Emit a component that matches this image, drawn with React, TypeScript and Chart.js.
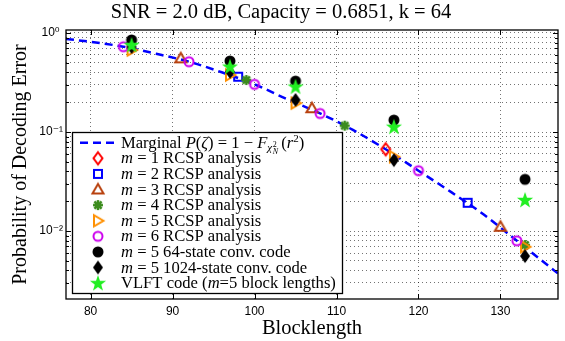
import React, { useEffect, useRef } from 'react';
import { Chart, registerables } from 'chart.js';

Chart.register(...registerables);

const titleText = 'SNR = 2.0 dB, Capacity = 0.6851, k = 64';
const xTitle = 'Blocklength';
const yTitle = 'Probability of Decoding Error';
const xTickValues = [80, 90, 100, 110, 120, 130];
const yMajorTicks = [0.01, 0.1, 1];
const yMajorLabels = ['10\u207B\u00B2', '10\u207B\u00B9', '10\u2070 '];

const marginalX = [77, 80, 84, 88, 92, 96, 100, 104, 108, 112, 116, 120, 124, 128, 132, 137];
const marginalY = [0.87, 0.815, 0.727, 0.617, 0.513, 0.401, 0.303, 0.214, 0.154, 0.105, 0.0669, 0.0407, 0.0247, 0.0146, 0.00798, 0.00374];

const m1X = [116];
const m1Y = [0.0669];
const m2X = [98, 126];
const m2Y = [0.362, 0.0193];
const m3X = [91, 107, 130];
const m3Y = [0.555, 0.174, 0.01105];
const m4X = [99, 111, 133];
const m4Y = [0.335, 0.116, 0.00722];
const m5X = [85, 97, 105, 117, 133];
const m5Y = [0.673, 0.376, 0.196, 0.0563, 0.00694];
const m6X = [84, 92, 100, 108, 120, 132];
const m6Y = [0.727, 0.513, 0.303, 0.154, 0.0407, 0.00798];
const conv64X = [85, 97, 105, 117, 133];
const conv64Y = [0.85, 0.521, 0.327, 0.132, 0.0333];
const conv1024X = [85, 97, 105, 117, 133];
const conv1024Y = [0.72, 0.406, 0.211, 0.052, 0.00559];
const vlftX = [85, 97, 105, 117, 133];
const vlftY = [0.756, 0.457, 0.287, 0.113, 0.0206];

const mValues = ['1', '2', '3', '4', '5', '6'];

const SERIF = '"Liberation Serif", "DejaVu Serif", serif';
const SANS = '"Liberation Sans", "DejaVu Sans", sans-serif';

function makeMarker(kind: string, color: string): HTMLCanvasElement {
  const c = document.createElement('canvas');
  const S = 20;
  c.width = S;
  c.height = S;
  const ctx = c.getContext('2d')!;
  const cx = S / 2;
  const cy = S / 2;
  ctx.strokeStyle = color;
  ctx.fillStyle = color;
  ctx.lineWidth = 2;
  ctx.lineJoin = 'miter';
  ctx.beginPath();
  switch (kind) {
    case 'diamondOpen':
      ctx.moveTo(cx, cy - 6);
      ctx.lineTo(cx + 4.5, cy);
      ctx.lineTo(cx, cy + 6);
      ctx.lineTo(cx - 4.5, cy);
      ctx.closePath();
      ctx.stroke();
      break;
    case 'square':
      ctx.rect(cx - 4, cy - 4, 8, 8);
      ctx.stroke();
      break;
    case 'triUp':
      ctx.moveTo(cx, cy - 5.5);
      ctx.lineTo(cx + 5.5, cy + 4);
      ctx.lineTo(cx - 5.5, cy + 4);
      ctx.closePath();
      ctx.stroke();
      break;
    case 'asterisk': {
      ctx.lineWidth = 2.5;
      const r = 5;
      const d = r * 0.72;
      ctx.moveTo(cx - r, cy); ctx.lineTo(cx + r, cy);
      ctx.moveTo(cx, cy - r); ctx.lineTo(cx, cy + r);
      ctx.moveTo(cx - d, cy - d); ctx.lineTo(cx + d, cy + d);
      ctx.moveTo(cx - d, cy + d); ctx.lineTo(cx + d, cy - d);
      ctx.stroke();
      ctx.beginPath();
      ctx.arc(cx, cy, 3, 0, Math.PI * 2);
      ctx.fill();
      break;
    }
    case 'triRight':
      ctx.moveTo(cx + 5.5, cy);
      ctx.lineTo(cx - 4, cy - 5.5);
      ctx.lineTo(cx - 4, cy + 5.5);
      ctx.closePath();
      ctx.stroke();
      break;
    case 'circleOpen':
      ctx.arc(cx, cy, 4.5, 0, Math.PI * 2);
      ctx.stroke();
      break;
    case 'circleFilled':
      ctx.arc(cx, cy, 5.5, 0, Math.PI * 2);
      ctx.fill();
      break;
    case 'diamondFilled':
      ctx.moveTo(cx, cy - 7);
      ctx.lineTo(cx + 5, cy);
      ctx.lineTo(cx, cy + 7);
      ctx.lineTo(cx - 5, cy);
      ctx.closePath();
      ctx.fill();
      break;
    case 'star5': {
      const ro = 8.5;
      const ri = 3.4;
      for (let i = 0; i < 10; i++) {
        const r = i % 2 === 0 ? ro : ri;
        const a = -Math.PI / 2 + (i * Math.PI) / 5;
        const px = cx + r * Math.cos(a);
        const py = cy + 0.5 + r * Math.sin(a);
        if (i === 0) ctx.moveTo(px, py);
        else ctx.lineTo(px, py);
      }
      ctx.closePath();
      ctx.fill();
      break;
    }
  }
  return c;
}

function pts(xs: number[], ys: number[]) {
  return xs.map((x, i) => ({ x, y: ys[i] }));
}

export default function App() {
  const ref = useRef<HTMLCanvasElement | null>(null);

  useEffect(() => {
    document.body.style.margin = '0';
    const canvas = ref.current;
    if (!canvas) return;

    const markers = {
      m1: makeMarker('diamondOpen', '#ff0000'),
      m2: makeMarker('square', '#0000ff'),
      m3: makeMarker('triUp', '#b8410e'),
      m4: makeMarker('asterisk', '#3c8c1e'),
      m5: makeMarker('triRight', '#ff9000'),
      m6: makeMarker('circleOpen', '#cc00ee'),
      c64: makeMarker('circleFilled', '#000000'),
      c1024: makeMarker('diamondFilled', '#000000'),
      vlft: makeMarker('star5', '#22ee22'),
    };

    const series = [
      { key: 'm1', data: pts(m1X, m1Y) },
      { key: 'm2', data: pts(m2X, m2Y) },
      { key: 'm3', data: pts(m3X, m3Y) },
      { key: 'm4', data: pts(m4X, m4Y) },
      { key: 'm5', data: pts(m5X, m5Y) },
      { key: 'm6', data: pts(m6X, m6Y) },
      { key: 'c64', data: pts(conv64X, conv64Y) },
      { key: 'c1024', data: pts(conv1024X, conv1024Y) },
      { key: 'vlft', data: pts(vlftX, vlftY) },
    ];

    const yGridValues: number[] = [];
    for (let d = -3; d <= 0; d++) {
      for (let k = 1; k <= 9; k++) {
        const v = k * Math.pow(10, d);
        if (v >= 0.00206 && v <= 1.072) yGridValues.push(v);
      }
    }

    const datasets: any[] = [
      {
        label: 'Marginal',
        data: pts(marginalX, marginalY),
        showLine: true,
        borderColor: '#0000ff',
        borderWidth: 2.5,
        borderDash: [8, 5],
        pointRadius: 0,
        cubicInterpolationMode: 'monotone',
        order: 0,
      },
      ...series.map((s, i) => ({
        label: s.key,
        data: s.data,
        showLine: false,
        pointStyle: (markers as any)[s.key],
        pointRadius: 6,
        pointHoverRadius: 6,
        order: -(i + 1),
      })),
    ];

    const frameLegend = {
      id: 'frameLegend',
      afterDraw(chart: any) {
        const ctx = chart.ctx as CanvasRenderingContext2D;
        const a = chart.chartArea;
        const xs = chart.scales.x;
        const ys = chart.scales.y;
        ctx.save();
        // frame
        ctx.strokeStyle = '#000';
        ctx.lineWidth = 1.3;
        ctx.strokeRect(a.left, a.top, a.right - a.left, a.bottom - a.top);
        // inner ticks
        ctx.lineWidth = 1;
        ctx.beginPath();
        xTickValues.forEach((v) => {
          const px = Math.round(xs.getPixelForValue(v)) + 0.5;
          ctx.moveTo(px, a.bottom); ctx.lineTo(px, a.bottom - 5);
          ctx.moveTo(px, a.top); ctx.lineTo(px, a.top + 5);
        });
        yGridValues.forEach((v) => {
          const major = yMajorTicks.some((m) => Math.abs(m - v) / m < 1e-6);
          const len = major ? 5 : 3;
          const py = Math.round(ys.getPixelForValue(v)) + 0.5;
          ctx.moveTo(a.left, py); ctx.lineTo(a.left + len, py);
          ctx.moveTo(a.right, py); ctx.lineTo(a.right - len, py);
        });
        ctx.stroke();

        // legend
        const bx = 72.5, by = 132.5, bw = 270, bh = 161;
        ctx.fillStyle = '#fff';
        ctx.fillRect(bx, by, bw, bh);
        ctx.strokeStyle = '#000';
        ctx.lineWidth = 1.3;
        ctx.strokeRect(bx, by, bw, bh);

        const R = `16.6px ${SERIF}`;
        const I = `italic 16.6px ${SERIF}`;
        const row0 = 142.7;
        const dyRow = 15.6;
        const tx = 121;
        const mx = 98;
        ctx.fillStyle = '#000';
        ctx.textBaseline = 'alphabetic';
        ctx.textAlign = 'left';

        const drawSegs = (segs: { t: string; f: string; dy?: number }[], x: number, base: number) => {
          let cx = x;
          segs.forEach((s) => {
            ctx.font = s.f;
            ctx.fillText(s.t, cx, base + (s.dy || 0));
            cx += ctx.measureText(s.t).width;
          });
          return cx;
        };

        // marginal row
        ctx.save();
        ctx.strokeStyle = '#0000ff';
        ctx.lineWidth = 2.5;
        ctx.setLineDash([8, 5]);
        ctx.beginPath();
        ctx.moveTo(80, row0);
        ctx.lineTo(117, row0);
        ctx.stroke();
        ctx.restore();
        let base = row0 + 5;
        let cx = drawSegs(
          [
            { t: 'Marginal ', f: R },
            { t: 'P', f: I },
            { t: '(', f: R },
            { t: '\u03B6', f: I },
            { t: ') = 1 \u2212 ', f: R },
            { t: 'F', f: I },
            { t: '\u03C7', f: `italic 11px ${SERIF}`, dy: 3 },
          ],
          tx,
          base
        );
        ctx.font = `8px ${SERIF}`;
        ctx.fillText('2', cx + 0.5, base - 1);
        ctx.font = `italic 8px ${SERIF}`;
        ctx.fillText('N', cx + 0.5, base + 6);
        cx += 9;
        cx = drawSegs(
          [
            { t: '(', f: R },
            { t: 'r', f: I },
            { t: '2', f: `11px ${SERIF}`, dy: -6 },
            { t: ')', f: R },
          ],
          cx,
          base
        );

        const keys = ['m1', 'm2', 'm3', 'm4', 'm5', 'm6', 'c64', 'c1024', 'vlft'];
        keys.forEach((k, i) => {
          const y = row0 + dyRow * (i + 1);
          const img = (markers as any)[k] as HTMLCanvasElement;
          ctx.drawImage(img, mx - img.width / 2, y - img.height / 2);
          const b = y + 5;
          if (i < 6) {
            drawSegs([{ t: 'm', f: I }, { t: ` = ${mValues[i]} RCSP analysis`, f: R }], tx, b);
          } else if (k === 'c64') {
            drawSegs([{ t: 'm', f: I }, { t: ' = 5 64-state conv. code', f: R }], tx, b);
          } else if (k === 'c1024') {
            drawSegs([{ t: 'm', f: I }, { t: ' = 5 1024-state conv. code', f: R }], tx, b);
          } else {
            drawSegs(
              [
                { t: 'VLFT code (', f: R },
                { t: 'm', f: I },
                { t: '=5 block lengths)', f: R },
              ],
              tx,
              b
            );
          }
        });
        ctx.restore();
      },
    };

    Chart.defaults.color = '#000';

    const chart = new Chart(canvas, {
      type: 'line',
      data: { datasets },
      options: {
        animation: false,
        responsive: false,
        devicePixelRatio: 1,
        layout: { padding: { left: 0, right: 3, top: 0, bottom: 0 } },
        plugins: {
          legend: { display: false },
          tooltip: { enabled: false },
          title: {
            display: true,
            text: titleText,
            color: '#000',
            font: { family: SERIF, size: 20.5, weight: 'normal' },
            padding: { top: 0, bottom: 5.4 },
          },
        },
        scales: {
          x: {
            type: 'linear',
            min: 77,
            max: 137.02,
            afterFit: (s: any) => {
              s.height = 42;
            },
            afterBuildTicks: (s: any) => {
              s.ticks = xTickValues.map((v) => ({ value: v }));
            },
            ticks: {
              autoSkip: false,
              maxRotation: 0,
              padding: 5,
              color: '#000',
              font: { family: SANS, size: 12 },
            },
            grid: {
              drawTicks: false,
              color: 'rgba(0,0,0,0.55)',
              lineWidth: 1,
            },
            border: { display: false, dash: [1, 3] },
            title: {
              display: true,
              text: xTitle,
              color: '#000',
              font: { family: SERIF, size: 20.5 },
              padding: { top: 0, bottom: 0 },
            },
          },
          y: {
            type: 'logarithmic',
            min: 0.00206,
            max: 1.072,
            afterFit: (s: any) => {
              s.width = 66;
            },
            afterBuildTicks: (s: any) => {
              s.ticks = yGridValues.map((v) => ({ value: v }));
            },
            ticks: {
              autoSkip: false,
              padding: 3,
              color: '#000',
              font: { family: SANS, size: 12 },
              callback: (v: any) => {
                const idx = yMajorTicks.findIndex((m) => Math.abs(m - Number(v)) / m < 1e-6);
                return idx >= 0 ? yMajorLabels[idx] : '';
              },
            },
            grid: {
              drawTicks: false,
              color: 'rgba(0,0,0,0.55)',
              lineWidth: 1,
            },
            border: { display: false, dash: [1, 3] },
            title: {
              display: true,
              text: yTitle,
              color: '#000',
              font: { family: SERIF, size: 20 },
              padding: { top: 9, bottom: 0 },
            },
          },
        },
      },
      plugins: [frameLegend],
    });

    return () => {
      chart.destroy();
    };
  }, []);

  return (
    <div style={{ width: 565, height: 341 }}>
      <canvas ref={ref} width={565} height={341} style={{ display: 'block', width: 565, height: 341 }} />
    </div>
  );
}
